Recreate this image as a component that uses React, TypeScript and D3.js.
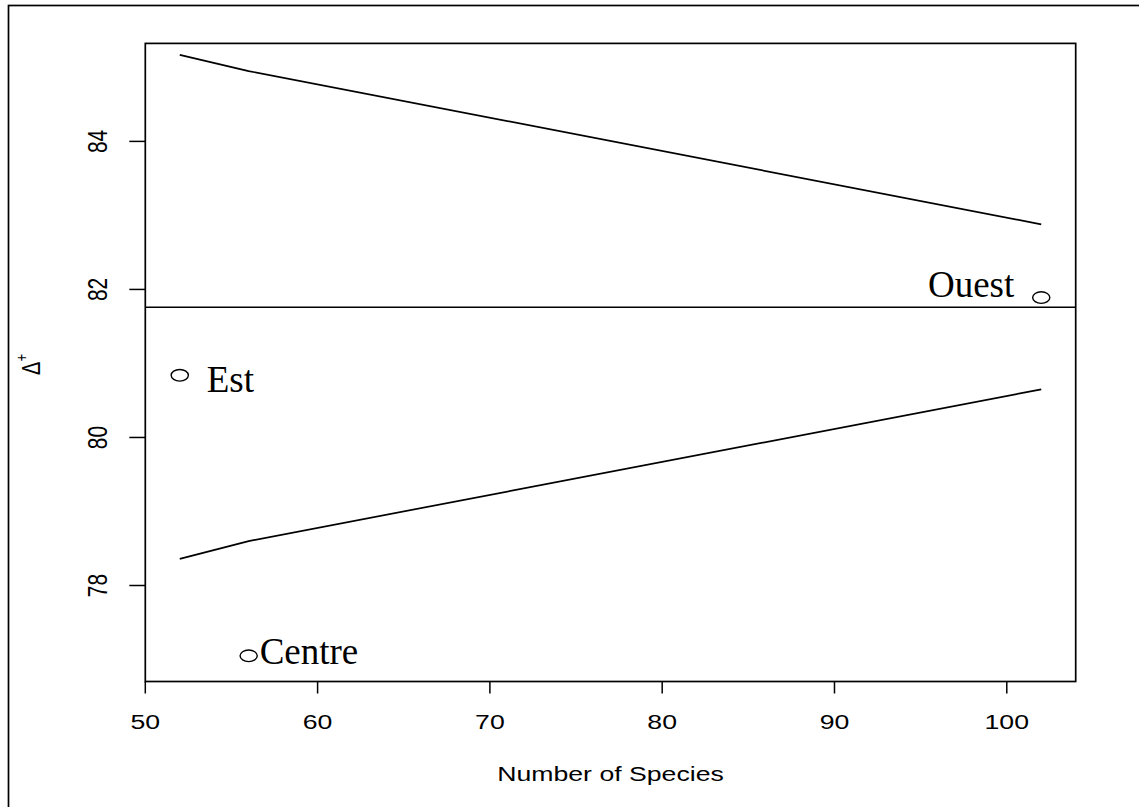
import React from "react";
import * as d3 from "d3";

// Taxonomic distinctness (Delta+) funnel: 95% limits against number of species
const speciesCounts = [52, 56, 102];
const upperLimit = [85.17, 84.95, 82.88];
const lowerLimit = [78.36, 78.6, 80.65];
const meanDelta = 81.76;

const siteNames = ["Est", "Centre", "Ouest"];
const siteSpecies = [52, 56, 102];
const siteDelta = [80.84, 77.05, 81.89];

const xTicks = [50, 60, 70, 80, 90, 100];
const yTicks = [78, 80, 82, 84];

const W = 1139;
const H = 807;
const plot = { left: 145.3, right: 1075.7, top: 43.4, bottom: 681.5 };
const SX = 1.3; // horizontal stretch of the sans-serif axis text
const sans = "'Liberation Sans', Arial, Helvetica, sans-serif";
const serif = "'Liberation Serif', 'Times New Roman', serif";

// label placement relative to each point
const labelOffsets: Record<string, { dx: number; dy: number; anchor: string }> = {
  Est: { dx: 27, dy: 17, anchor: "start" },
  Centre: { dx: 11, dy: 8, anchor: "start" },
  Ouest: { dx: -27, dy: -1, anchor: "end" },
};

export default function App() {
  const x = d3.scaleLinear().domain([50, 104]).range([plot.left, plot.right]);
  const y = d3.scaleLinear().domain([76.703, 85.324]).range([plot.bottom, plot.top]);

  const line = d3
    .line<number>()
    .x((_, i) => x(speciesCounts[i]))
    .y((d) => y(d));

  const stroke = "#000";

  return (
    <svg
      width={W}
      height={H}
      style={{ position: "absolute", left: 0, top: 0, background: "#fff" }}
    >
      <rect x={0} y={0} width={W} height={H} fill="#fff" />
      {/* figure frame */}
      <rect x={8.5} y={5.5} width={W + 20} height={H + 20} fill="none" stroke={stroke} strokeWidth={1.7} />

      {/* plot frame */}
      <rect
        x={plot.left}
        y={plot.top}
        width={plot.right - plot.left}
        height={plot.bottom - plot.top}
        fill="none"
        stroke={stroke}
        strokeWidth={1.7}
      />

      {/* x axis */}
      {xTicks.map((t) => (
        <g key={"xt" + t}>
          <line x1={x(t)} x2={x(t)} y1={plot.bottom} y2={plot.bottom + 12} stroke={stroke} strokeWidth={1.5} />
          <text
            transform={`translate(${x(t)},${729}) scale(${SX},1)`}
            textAnchor="middle"
            fontFamily={sans}
            fontSize={20.5}
            fill="#000"
          >
            {t}
          </text>
        </g>
      ))}
      <text
        transform={`translate(${(plot.left + plot.right) / 2},${781}) scale(${SX},1)`}
        textAnchor="middle"
        fontFamily={sans}
        fontSize={20.5}
        fill="#000"
      >
        Number of Species
      </text>

      {/* y axis */}
      {yTicks.map((t) => (
        <g key={"yt" + t}>
          <line x1={plot.left - 16} x2={plot.left} y1={y(t)} y2={y(t)} stroke={stroke} strokeWidth={1.5} />
          <text
            transform={`translate(${106.5},${y(t)}) scale(${SX},1) rotate(-90)`}
            textAnchor="middle"
            fontFamily={sans}
            fontSize={21}
            fill="#000"
          >
            {t}
          </text>
        </g>
      ))}
      <text
        transform={`translate(${40},${(plot.top + plot.bottom) / 2 + 2}) scale(${SX},1) rotate(-90)`}
        textAnchor="middle"
        fontFamily={sans}
        fontSize={20}
        fill="#000"
      >
        Δ
        <tspan fontSize={13} dy={-10}>
          +
        </tspan>
      </text>

      {/* mean and funnel limits */}
      <line x1={plot.left} x2={plot.right} y1={y(meanDelta)} y2={y(meanDelta)} stroke={stroke} strokeWidth={1.6} />
      <path d={line(upperLimit) ?? ""} fill="none" stroke={stroke} strokeWidth={1.7} />
      <path d={line(lowerLimit) ?? ""} fill="none" stroke={stroke} strokeWidth={1.7} />

      {/* sites */}
      {siteNames.map((name, i) => {
        const cx = x(siteSpecies[i]);
        const cy = y(siteDelta[i]);
        const o = labelOffsets[name];
        return (
          <g key={name}>
            <ellipse cx={cx} cy={cy} rx={8.6} ry={5.8} fill="none" stroke={stroke} strokeWidth={1.4} />
            <text
              x={cx + o.dx}
              y={cy + o.dy}
              textAnchor={o.anchor}
              fontFamily={serif}
              fontSize={37}
              fill="#000"
            >
              {name}
            </text>
          </g>
        );
      })}
    </svg>
  );
}
